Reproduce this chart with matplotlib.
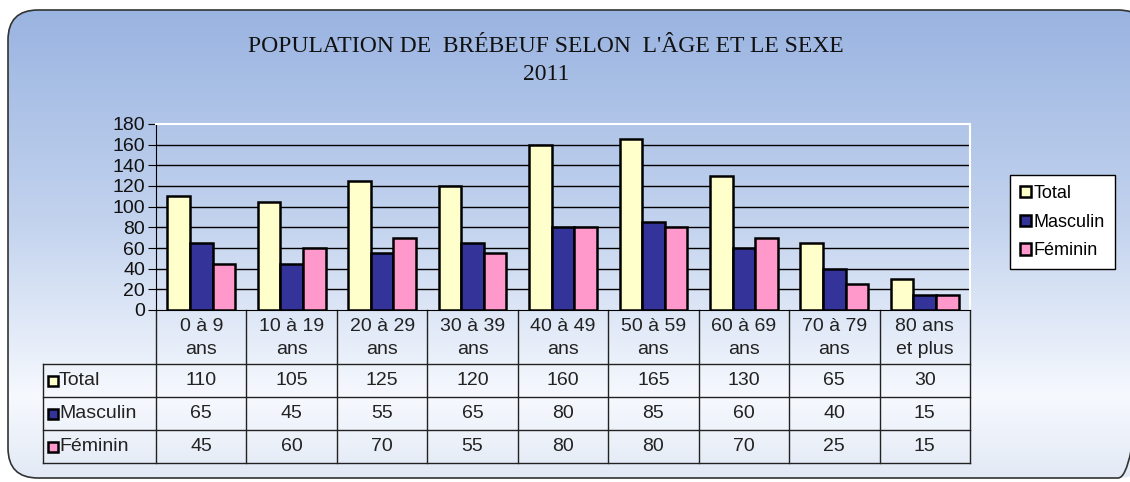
import numpy as np
import matplotlib
matplotlib.use('Agg')
from matplotlib import pyplot as plt
from matplotlib.patches import FancyBboxPatch, Rectangle, Patch
from matplotlib.colors import LinearSegmentedColormap
from matplotlib.transforms import blended_transform_factory

# donnees
groupes = ['0 à 9\nans', '10 à 19\nans', '20 à 29\nans', '30 à 39\nans', '40 à 49\nans',
           '50 à 59\nans', '60 à 69\nans', '70 à 79\nans', '80 ans\net plus']
total = [110, 105, 125, 120, 160, 165, 130, 65, 30]
masculin = [65, 45, 55, 65, 80, 85, 60, 40, 15]
feminin = [45, 60, 70, 55, 80, 80, 70, 25, 15]
series = ['Total', 'Masculin', 'Féminin']
couleurs = ['#FFFFCC', '#333399', '#FF99CC']

W, H = 1130, 482
fig = plt.figure(figsize=(W / 100, H / 100), dpi=100)
plt.rcParams['font.family'] = ['Liberation Sans', 'DejaVu Sans']

# fond degrade avec coins arrondis
bg = fig.add_axes([0, 0, 1, 1])
bg.set_xlim(0, W)
bg.set_ylim(H, 0)
bg.axis('off')
cmap = LinearSegmentedColormap.from_list('fond', [
    (0.0, '#9AB4E1'), (0.45, '#C3D3EE'), (0.82, '#F6F9FE'), (1.0, '#E2E9F5')])
grad = np.linspace(0, 1, 256).reshape(-1, 1)
im = bg.imshow(grad, cmap=cmap, aspect='auto', extent=[8, W + 20, 482, 10])
boite = FancyBboxPatch((8, 10), W + 10, 468, boxstyle='round,pad=0,rounding_size=30',
                       facecolor='none', edgecolor='#333333', linewidth=1.2)
bg.add_patch(boite)
im.set_clip_path(boite)

# titre
serif = ['Liberation Serif', 'DejaVu Serif']
bg.text(546, 47, "POPULATION DE  BRÉBEUF SELON  L'ÂGE ET LE SEXE", ha='center', va='center',
        fontsize=17, family=serif, color='#111111')
bg.text(546, 74, '2011', ha='center', va='center', fontsize=17, family=serif, color='#111111')

# graphique
x0, x1, ytop, ybot = 156, 970, 124, 310
ax = fig.add_axes([x0 / W, 1 - ybot / H, (x1 - x0) / W, (ybot - ytop) / H])
ax.set_facecolor('none')
ax.set_xlim(-0.5, 8.5)
ax.set_ylim(0, 180)
x = np.arange(len(groupes))
w = 0.25
for k, (vals, c) in enumerate(zip([total, masculin, feminin], couleurs)):
    ax.bar(x + (k - 1) * w, vals, width=w, color=c, edgecolor='black', linewidth=1.8, zorder=3)
for v in range(20, 180, 20):
    ax.axhline(v, color='black', linewidth=1, zorder=1)
ax.axhline(180, color='white', linewidth=1.5, zorder=1)
ax.set_yticks(range(0, 181, 20))
ax.tick_params(axis='y', labelsize=14, length=6, direction='out', pad=2, labelcolor='#111111')
ax.set_xticks([])
ax.spines['top'].set_color('white')
ax.spines['right'].set_color('white')
ax.spines['top'].set_linewidth(1.5)
ax.spines['right'].set_linewidth(1.5)

# tableau de donnees sous le graphique
tr = blended_transform_factory(ax.transData, bg.transData)
xg = -1.75
lignes_y = [364, 397, 430, 463]
lc = '#222222'
fs = 14
for i in range(len(groupes) + 1):
    ax.plot([i - 0.5, i - 0.5], [310, 463], color=lc, linewidth=1, transform=tr, clip_on=False)
ax.plot([xg, xg], [364, 463], color=lc, linewidth=1, transform=tr, clip_on=False)
for yl in lignes_y:
    ax.plot([xg, 8.5], [yl, yl], color=lc, linewidth=1, transform=tr, clip_on=False)
for i, g in enumerate(groupes):
    ax.text(i, 338, g, ha='center', va='center', fontsize=fs, color='#222222',
            transform=tr, linespacing=1.5)
for r, (nom, vals, c) in enumerate(zip(series, [total, masculin, feminin], couleurs)):
    yc = (lignes_y[r] + lignes_y[r + 1]) / 2
    bg.add_patch(Rectangle((48, yc - 5), 10, 10, facecolor=c, edgecolor='black', linewidth=1.8))
    bg.text(59, yc, nom, ha='left', va='center', fontsize=fs, color='#222222')
    for i, v in enumerate(vals):
        ax.text(i, yc, str(v), ha='center', va='center', fontsize=fs, color='#222222',
                transform=tr)

# legende
poignees = [Patch(facecolor=c, edgecolor='black', linewidth=1.8) for c in couleurs]
leg = fig.legend(poignees, series, loc='upper left', bbox_to_anchor=(1010 / W, 1 - 175 / H),
                 frameon=True, fancybox=False, edgecolor='black', framealpha=1,
                 fontsize=13, handlelength=0.6, handleheight=0.6, handletextpad=0.15,
                 labelspacing=0.65, borderpad=0.55, borderaxespad=0)
leg.get_frame().set_linewidth(1)

fig.savefig('out.png', dpi=100)
